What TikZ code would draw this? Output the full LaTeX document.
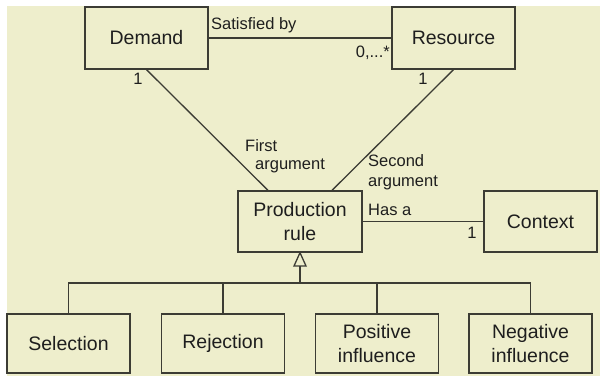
\documentclass[tikz,border=0pt]{standalone}
\usepackage{fontspec}
\setmainfont{Liberation Sans}
\definecolor{paper}{RGB}{238,238,204}
\definecolor{ink}{RGB}{60,60,52}
\definecolor{txt}{RGB}{30,30,30}
\begin{document}
\begin{tikzpicture}[x=1pt,y=-1pt,
  cls/.style={draw=ink, line width=1.3pt, fill=paper, text=txt, align=center,
    inner sep=0pt, font=\fontsize{19.5}{24}\selectfont},
  assoc/.style={draw=ink, line width=1.3pt},
  lbl/.style={text=txt, inner sep=0pt, align=left, font=\fontsize{16.5}{20}\selectfont}]
  % canvas
  \useasboundingbox (0,0) rectangle (600,376);
  \fill[white] (0,0) rectangle (600,376);
  \fill[paper] (7,6) rectangle (600,376);

  % classes
  \node[cls, minimum width=123pt, minimum height=62pt] (demand)   at (146.5,38) {Demand};
  \node[cls, minimum width=123pt, minimum height=62pt] (resource) at (453.5,38) {Resource};
  \node[cls, minimum width=124pt, minimum height=61pt] (rule)     at (300,221.5) {Production\\rule};
  \node[cls, minimum width=113pt, minimum height=61pt] (context)  at (540.5,221.5) {Context};

  \node[cls, minimum width=123pt, minimum height=59pt] (selection) at (68.5,343.5)  {Selection};
  \node[cls, minimum width=123pt, minimum height=59pt] (rejection) at (223,343.5) {Rejection};
  \node[cls, minimum width=123pt, minimum height=59pt] (positive)  at (377,343.5) {Positive\\influence};
  \node[cls, minimum width=123pt, minimum height=59pt] (negative)  at (530.5,343.5) {Negative\\influence};

  % associations
  \draw[assoc] (demand.east) -- (resource.west);
  \draw[assoc] (demand.south) -- ([xshift=-32pt]rule.north);
  \draw[assoc] (resource.south) -- ([xshift=32pt]rule.north);
  \draw[assoc] (rule.east) -- (context.west);

  % generalization
  \coordinate (tribase) at (300,266);
  \coordinate (bar) at (300,283);
  \draw[assoc, fill=paper, line join=miter] (rule.south) -- ([xshift=-6pt]tribase) -- ([xshift=6pt]tribase) -- cycle;
  \draw[assoc] (tribase) -- (bar);
  \draw[assoc] (selection.north) |- (bar) -| (negative.north);
  \draw[assoc] (rejection.north) -- (rejection.north |- bar);
  \draw[assoc] (positive.north) -- (positive.north |- bar);

  % association labels
  \node[lbl, anchor=west] (satisfied) at (211,25) {Satisfied by};
  \node[lbl, anchor=east] (many) at (390,53) {0,...*};
  \node[lbl] (onedemand) at (138,79) {1};
  \node[lbl] (oneresource) at (423,79) {1};
  \node[lbl, anchor=west] (firstA) at (245,146) {First};
  \node[lbl, anchor=west] (firstB) at (255,166) {argument};
  \node[lbl, anchor=west] (second) at (368,172) {Second\\argument};
  \node[lbl, anchor=west] (hasa) at (368,210) {Has a};
  \node[lbl] (onecontext) at (472,233) {1};
\end{tikzpicture}
\end{document}
